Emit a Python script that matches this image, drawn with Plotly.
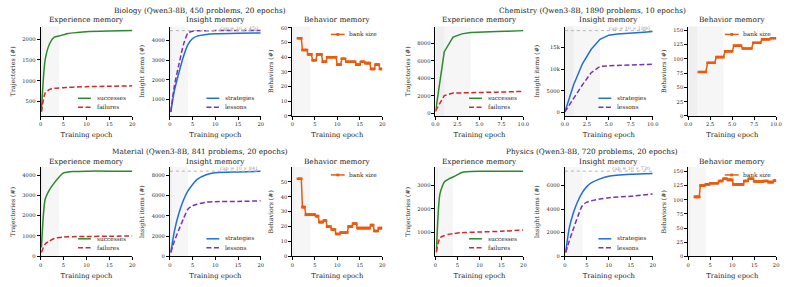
import plotly.graph_objects as go

# ---------------- data ----------------
# Biology (450 problems, 20 epochs)
BIO_EXP_EPOCH = [0.2, 1, 2, 3, 4, 5, 6, 8, 10, 15, 20]
BIO_SUCCESSES = [285, 1500, 1900, 2050, 2080, 2110, 2140, 2165, 2185, 2200, 2210]
BIO_FAILURES = [245, 700, 790, 815, 825, 830, 838, 848, 855, 865, 875]
BIO_INS_EPOCH = [0.2, 1, 2, 3, 4, 5, 6, 8, 10, 15, 20]
BIO_STRATEGIES = [360, 1450, 2370, 3200, 3800, 4100, 4220, 4300, 4340, 4370, 4385]
BIO_LESSONS = [360, 1700, 2790, 3800, 4385, 4470, 4490, 4498, 4500, 4500, 4500]
BIO_BEH_EPOCH = [1.25, 1.5, 1.75, 2, 2.25, 2.5, 2.75, 3, 3.25, 3.5, 3.75, 4, 4.25, 4.5, 4.75, 5,
                 5.25, 5.5, 5.75, 6, 6.25, 6.5, 6.75, 7, 7.25, 7.5, 7.75, 8, 8.25, 8.5, 8.75, 9,
                 9.25, 9.5, 9.75, 10, 10.25, 10.5, 10.75, 11, 11.25, 11.5, 11.75, 12, 12.25, 12.5,
                 12.75, 13, 13.25, 13.5, 13.75, 14, 14.25, 14.5, 14.75, 15, 15.25, 15.5, 15.75, 16,
                 16.25, 16.5, 16.75, 17, 17.25, 17.5, 17.75, 18, 18.25, 18.5, 18.75, 19, 19.25,
                 19.5, 19.75, 20]
BIO_BANK = [53, 53, 53, 53, 45, 45, 45, 45, 45, 42, 42, 42, 42, 38, 38, 38, 38, 42, 42, 42, 42, 42,
            37, 37, 37, 37, 40, 40, 40, 40, 40, 40, 40, 40, 40, 35, 35, 35, 35, 39, 39, 39, 39,
            37, 37, 37, 37, 37, 37, 37, 37, 37, 35, 35, 35, 35, 37, 37, 37, 37, 36, 36, 36, 36, 36,
            32, 32, 32, 32, 35, 35, 35, 35, 32, 32, 32]

# Chemistry (1890 problems, 10 epochs)
CHE_EXP_EPOCH = [0, 1, 2, 3, 4, 5, 6, 7, 8, 9, 10]
CHE_SUCCESSES = [185, 7040, 8700, 9070, 9220, 9280, 9320, 9340, 9360, 9400, 9440]
CHE_FAILURES = [300, 2040, 2330, 2370, 2390, 2405, 2420, 2435, 2450, 2480, 2520]
CHE_INS_EPOCH = [0, 1, 2, 3, 4, 5, 6, 7, 8, 9, 10]
CHE_STRATEGIES = [150, 6400, 11250, 14600, 16900, 17850, 18100, 18300, 18450, 18550, 18700]
CHE_LESSONS = [150, 3400, 6400, 9200, 10650, 10800, 10850, 10880, 10900, 11000, 11150]
CHE_BEH_EPOCH = [1.2, 1.4, 1.6, 1.8, 2.0, 2.2, 2.4, 2.6, 2.8, 3.0, 3.2, 3.4, 3.6, 3.8, 4.0,
                 4.2, 4.4, 4.6, 4.8, 5.0, 5.2, 5.4, 5.6, 5.8, 6.0, 6.2, 6.4, 6.6, 6.8, 7.0,
                 7.2, 7.4, 7.6, 7.8, 8.0, 8.2, 8.4, 8.6, 8.8, 9.0, 9.2, 9.4, 9.6, 9.8, 10.0]
CHE_BANK = [77, 77, 77, 77, 77, 93, 93, 93, 93, 93, 103, 103, 103, 103, 103,
            113, 113, 113, 113, 113, 123, 123, 123, 123, 123, 118, 118, 118, 118, 118,
            118, 128, 128, 128, 128, 128, 134, 134, 134, 134, 134, 136, 136, 136, 136]

# Material (841 problems, 20 epochs)
MAT_EXP_EPOCH = [0.2, 1, 2, 3, 4, 5, 6, 7, 10, 15, 20]
MAT_SUCCESSES = [430, 2800, 3300, 3620, 3900, 4110, 4160, 4180, 4200, 4200, 4200]
MAT_FAILURES = [180, 590, 750, 870, 920, 940, 955, 960, 970, 980, 1000]
MAT_INS_EPOCH = [0.2, 1, 2, 3, 4, 5, 6, 8, 10, 15, 20]
MAT_STRATEGIES = [390, 2500, 4280, 5570, 6480, 7100, 7600, 8060, 8260, 8330, 8390]
MAT_LESSONS = [390, 1520, 2660, 3730, 4670, 4990, 5150, 5350, 5400, 5420, 5480]
MAT_BEH_EPOCH = [1.25, 1.5, 1.75, 2, 2.25, 2.5, 2.75, 3, 3.25, 3.5, 3.75, 4, 4.25, 4.5, 4.75, 5,
                 5.25, 5.5, 5.75, 6, 6.25, 6.5, 6.75, 7, 7.25, 7.5, 7.75, 8, 8.25, 8.5, 8.75, 9,
                 9.25, 9.5, 9.75, 10, 10.25, 10.5, 10.75, 11, 11.25, 11.5, 11.75, 12, 12.25, 12.5,
                 12.75, 13, 13.25, 13.5, 13.75, 14, 14.25, 14.5, 14.75, 15, 15.25, 15.5, 15.75, 16,
                 16.25, 16.5, 16.75, 17, 17.25, 17.5, 17.75, 18, 18.25, 18.5, 18.75, 19, 19.25,
                 19.5, 19.75, 20]
MAT_BANK = [52, 52, 52, 52, 33, 33, 33, 28, 28, 28, 28, 28, 28, 28, 28, 28, 27, 27, 27,
            23, 23, 23, 23, 24, 24, 24, 20, 20, 20, 20, 18, 18, 18, 18, 15, 15, 15, 15,
            16, 16, 16, 16, 16, 16, 16, 20, 20, 20, 20, 22, 22, 22, 22,
            19, 19, 19, 19, 19, 19, 19, 19, 19, 19, 19, 19, 21, 21, 21, 17, 17, 17, 17,
            19, 19, 19, 19]

# Physics (720 problems, 20 epochs)
PHY_EXP_EPOCH = [0.2, 1, 2, 3, 4, 5, 6, 7, 10, 15, 20]
PHY_SUCCESSES = [140, 2620, 3140, 3260, 3350, 3450, 3540, 3570, 3590, 3595, 3600]
PHY_FAILURES = [170, 760, 855, 910, 940, 965, 980, 990, 1010, 1040, 1100]
PHY_INS_EPOCH = [0.2, 1, 2, 3, 4, 5, 6, 8, 10, 15, 20]
PHY_STRATEGIES = [330, 2380, 3750, 4700, 5400, 5890, 6200, 6550, 6770, 6930, 7000]
PHY_LESSONS = [330, 1290, 2380, 3420, 4300, 4580, 4700, 4850, 4960, 5080, 5260]
PHY_BEH_EPOCH = [1.5, 1.75, 2, 2.25, 2.5, 2.75, 3, 3.25, 3.5, 3.75, 4, 4.25, 4.5, 4.75, 5,
                 5.25, 5.5, 5.75, 6, 6.25, 6.5, 6.75, 7, 7.25, 7.5, 7.75, 8, 8.25, 8.5, 8.75, 9,
                 9.25, 9.5, 9.75, 10, 10.25, 10.5, 10.75, 11, 11.25, 11.5, 11.75, 12, 12.25, 12.5,
                 12.75, 13, 13.25, 13.5, 13.75, 14, 14.25, 14.5, 14.75, 15, 15.25, 15.5, 15.75, 16,
                 16.25, 16.5, 16.75, 17, 17.25, 17.5, 17.75, 18, 18.25, 18.5, 18.75, 19, 19.25,
                 19.5, 19.75, 20]
PHY_BANK = [105, 105, 105, 105, 105, 125, 125, 125, 125, 125, 127, 127, 127, 127,
            129, 129, 129, 129, 129, 129, 129, 129, 133, 133, 133, 133, 137, 137, 137, 137,
            135, 135, 135, 135, 135, 127, 127, 127, 127, 127, 127, 127, 127, 127, 127,
            133, 133, 133, 133, 137, 137, 137, 137, 137, 132, 132, 132, 132, 132, 132, 132, 132, 132,
            133, 133, 133, 133, 131, 131, 131, 131, 131, 134, 134, 134]

X_TICKS_20 = [0, 5, 10, 15, 20]
X_TICKS_10 = [0, 2.5, 5, 7.5, 10]
X_TICKTEXT_10 = ["0.0", "2.5", "5.0", "7.5", "10.0"]

GROUPS = [
    dict(title="Biology (Qwen3-8B, 450 problems, 20 epochs)", n=450, epochs=20, row=0, half=0,
         exp=(BIO_EXP_EPOCH, BIO_SUCCESSES, BIO_FAILURES), exp_ticks=[500, 1000, 1500, 2000],
         ins=(BIO_INS_EPOCH, BIO_STRATEGIES, BIO_LESSONS), ins_ticks=[1000, 2000, 3000, 4000],
         beh=(BIO_BEH_EPOCH, BIO_BANK), beh_ticks=[0, 10, 20, 30, 40, 50, 60]),
    dict(title="Chemistry (Qwen3-8B, 1890 problems, 10 epochs)", n=1890, epochs=10, row=0, half=1,
         exp=(CHE_EXP_EPOCH, CHE_SUCCESSES, CHE_FAILURES), exp_ticks=[0, 2000, 4000, 6000, 8000],
         ins=(CHE_INS_EPOCH, CHE_STRATEGIES, CHE_LESSONS), ins_ticks=[0, 5000, 10000, 15000],
         beh=(CHE_BEH_EPOCH, CHE_BANK), beh_ticks=[0, 25, 50, 75, 100, 125, 150]),
    dict(title="Material (Qwen3-8B, 841 problems, 20 epochs)", n=841, epochs=20, row=1, half=0,
         exp=(MAT_EXP_EPOCH, MAT_SUCCESSES, MAT_FAILURES), exp_ticks=[0, 1000, 2000, 3000, 4000],
         ins=(MAT_INS_EPOCH, MAT_STRATEGIES, MAT_LESSONS), ins_ticks=[0, 2000, 4000, 6000, 8000],
         beh=(MAT_BEH_EPOCH, MAT_BANK), beh_ticks=[0, 10, 20, 30, 40, 50]),
    dict(title="Physics (Qwen3-8B, 720 problems, 20 epochs)", n=720, epochs=20, row=1, half=1,
         exp=(PHY_EXP_EPOCH, PHY_SUCCESSES, PHY_FAILURES), exp_ticks=[1000, 2000, 3000],
         ins=(PHY_INS_EPOCH, PHY_STRATEGIES, PHY_LESSONS), ins_ticks=[0, 2000, 4000, 6000],
         beh=(PHY_BEH_EPOCH, PHY_BANK), beh_ticks=[0, 25, 50, 75, 100, 125, 150]),
]

# ---------------- style / layout ----------------
W, H = 794, 287
FONT = "DejaVu Serif"
C_SUCC, C_FAIL = "#2b8a2b", "#d8262a"
C_STRAT, C_LESS = "#1f6fd6", "#7b2fbf"
C_BANK = "#ec5a0c"
COL_PX = [(37, 130), (168, 260), (292, 383), (437, 526), (568, 657), (693, 782)]
ROW_PX = [(25, 116), (168, 259)]
TITLE_Y = [9.0, 152.6]
SUB_Y = [18.1, 162.4]
SHADE_END = 4


def px(x):
    return x / W


def py(y):
    return 1 - y / H


fig = go.Figure()
shapes, annos = [], []
layout = {}


def pad_range(vals):
    lo, hi = min(vals), max(vals)
    m = 0.05 * (hi - lo)
    return [lo - m, hi + m]


def legend_line(x0, x1, y, color, dash, marker=False):
    shapes.append(dict(type="line", xref="paper", yref="paper", x0=px(x0), x1=px(x1),
                       y0=py(y), y1=py(y), line=dict(color=color, width=1.5, dash=dash)))
    if marker:
        xm = (x0 + x1) / 2
        shapes.append(dict(type="rect", xref="paper", yref="paper", x0=px(xm - 1.4), x1=px(xm + 1.4),
                           y0=py(y + 1.4), y1=py(y - 1.4), fillcolor=color, line_width=0))


def legend_text(x, y, text):
    annos.append(dict(xref="paper", yref="paper", x=px(x), y=py(y), xanchor="left", yanchor="middle",
                      text=text, showarrow=False, borderpad=0,
                      font=dict(family=FONT, size=5.8, color="#222")))


for gi, g in enumerate(GROUPS):
    top, bot = ROW_PX[g["row"]]
    annos.append(dict(xref="paper", yref="paper", x=px(198.5 + 397 * g["half"]), y=py(TITLE_Y[g["row"]]),
                      xanchor="center", yanchor="middle", text=g["title"], showarrow=False, borderpad=0,
                      font=dict(family=FONT, size=7.3, color="#222")))
    for j, kind in enumerate(["exp", "ins", "beh"]):
        k = gi * 3 + j + 1
        sfx = "" if k == 1 else str(k)
        xa, ya = "x" + sfx, "y" + sfx
        left, right = COL_PX[g["half"] * 3 + j]
        xaxis = dict(domain=[px(left), px(right)], anchor=ya, range=[0, g["epochs"]],
                     showline=True, linecolor="black", linewidth=1, ticks="outside", ticklen=3,
                     tickwidth=1, tickcolor="black", showgrid=False, zeroline=False,
                     tickfont=dict(family=FONT, size=5.2, color="#222"),
                     title=dict(text="Training epoch", font=dict(family=FONT, size=6.8, color="#222"),
                                standoff=6))
        if g["epochs"] == 20:
            xaxis.update(tickvals=X_TICKS_20)
        else:
            xaxis.update(tickvals=X_TICKS_10, ticktext=X_TICKTEXT_10)
        yaxis = dict(domain=[py(bot), py(top)], anchor=xa, showline=True, linecolor="black",
                     linewidth=1, ticks="outside", ticklen=3, tickwidth=1, tickcolor="black",
                     showgrid=False, zeroline=False,
                     tickfont=dict(family=FONT, size=5.2, color="#222"))
        ytitle_font = dict(family=FONT, size=6.2, color="#222")
        shape_kind = "spline" if g["epochs"] == 20 else "linear"
        annos.append(dict(xref="paper", yref="paper", x=px((left + right) / 2), y=py(SUB_Y[g["row"]]),
                          xanchor="center", yanchor="middle", borderpad=0,
                          text={"exp": "Experience memory", "ins": "Insight memory",
                                "beh": "Behavior memory"}[kind],
                          showarrow=False, font=dict(family=FONT, size=7.3, color="#222")))
        # shaded early-training region
        shapes.append(dict(type="rect", xref=xa, yref=ya + " domain", x0=0, x1=SHADE_END, y0=0, y1=1,
                           fillcolor="#f6f6f6", line_width=0, layer="below"))
        shapes.append(dict(type="rect", xref=xa, yref=ya + " domain", x0=0,
                           x1=0.5 if g["epochs"] == 20 else 1.0, y0=0, y1=1,
                           fillcolor="#efefef", line_width=0, layer="below"))
        if kind == "exp":
            ep, s, f = g["exp"]
            fig.add_trace(go.Scatter(x=ep, y=s, mode="lines", name="successes", xaxis=xa, yaxis=ya,
                                     line=dict(color=C_SUCC, width=1.5, shape=shape_kind, smoothing=0.6),
                                     showlegend=False))
            fig.add_trace(go.Scatter(x=ep, y=f, mode="lines", name="failures", xaxis=xa, yaxis=ya,
                                     line=dict(color=C_FAIL, width=1.5, dash="5px,2.5px",
                                               shape=shape_kind, smoothing=0.6),
                                     showlegend=False))
            yaxis.update(range=pad_range(s + f), tickvals=g["exp_ticks"],
                         title=dict(text="Trajectories (#)", font=ytitle_font, standoff=6))
            legend_line(right - 55, right - 42, bot - 18, C_SUCC, "solid")
            legend_text(right - 37, bot - 18, "successes")
            legend_line(right - 55, right - 42, bot - 9, C_FAIL, "5px,2.5px")
            legend_text(right - 37, bot - 9, "failures")
        elif kind == "ins":
            ep, s, l = g["ins"]
            cap = 10 * g["n"]
            fig.add_trace(go.Scatter(x=ep, y=s, mode="lines", name="strategies", xaxis=xa, yaxis=ya,
                                     line=dict(color=C_STRAT, width=1.5, shape=shape_kind, smoothing=0.6),
                                     showlegend=False))
            fig.add_trace(go.Scatter(x=ep, y=l, mode="lines", name="lessons", xaxis=xa, yaxis=ya,
                                     line=dict(color=C_LESS, width=1.5, dash="5px,2.5px",
                                               shape=shape_kind, smoothing=0.6),
                                     showlegend=False))
            yaxis.update(range=pad_range(s + l + [cap]), tickvals=g["ins_ticks"],
                         title=dict(text="Insight items (#)", font=ytitle_font, standoff=6))
            shapes.append(dict(type="line", xref=xa + " domain", yref=ya, x0=0, x1=1, y0=cap, y1=cap,
                               line=dict(color="#b5b5b5", width=1, dash="dot")))
            annos.append(dict(xref=xa + " domain", yref=ya, x=0.98, y=cap, xanchor="right",
                              yanchor="bottom", text=f"cap = 10 × {g['n']}", showarrow=False,
                              borderpad=0, yshift=-1,
                              font=dict(family=FONT, size=4.8, color="#9a9a9a")))
            legend_line(right - 55, right - 42, bot - 18, C_STRAT, "solid")
            legend_text(right - 37, bot - 18, "strategies")
            legend_line(right - 55, right - 42, bot - 9, C_LESS, "5px,2.5px")
            legend_text(right - 37, bot - 9, "lessons")
        else:
            ep, b = g["beh"]
            fig.add_trace(go.Scatter(x=ep, y=b, mode="lines+markers", name="bank size", xaxis=xa,
                                     yaxis=ya, line=dict(color=C_BANK, width=1.5),
                                     marker=dict(symbol="square", size=2.6, color=C_BANK),
                                     showlegend=False))
            yaxis.update(range=[0, 1.15 * max(b)], tickvals=g["beh_ticks"],
                         title=dict(text="Behaviors (#)", font=ytitle_font, standoff=6))
            legend_line(right - 52, right - 38, top + 8, C_BANK, "solid", marker=True)
            legend_text(right - 35, top + 8, "bank size")
        layout["xaxis" + sfx] = xaxis
        layout["yaxis" + sfx] = yaxis

fig.update_layout(**layout)
fig.update_layout(width=W, height=H, margin=dict(l=0, r=0, t=0, b=0), paper_bgcolor="white",
                  plot_bgcolor="white", showlegend=False, shapes=shapes, annotations=annos,
                  font=dict(family=FONT, color="#222"))
fig.write_html("out.html")
